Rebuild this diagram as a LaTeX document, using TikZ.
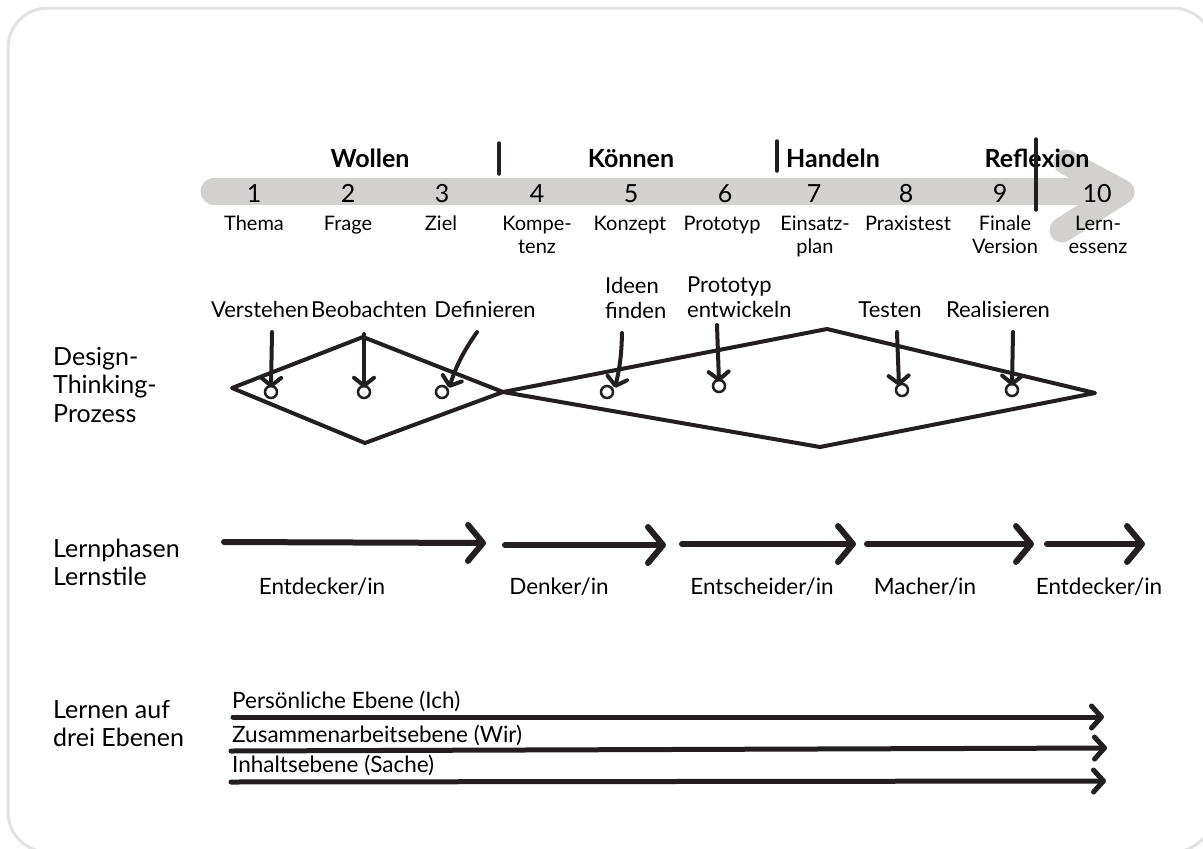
\documentclass[tikz,border=0pt]{standalone}
\usepackage{fontspec}
\setmainfont{Lato}
\usetikzlibrary{arrows.meta}
\definecolor{ink}{HTML}{231F20}
\definecolor{bandgray}{HTML}{D2D1CF}
\definecolor{framegray}{HTML}{E2E2E2}
\newcommand{\mlc}[1]{\begin{tabular}[t]{@{}c@{}}#1\end{tabular}}
\newcommand{\mll}[1]{\begin{tabular}[t]{@{}l@{}}#1\end{tabular}}
\tikzset{
  num/.style={font=\fontsize{25}{28}\selectfont, anchor=base, inner sep=0pt},
  sub/.style={font=\fontsize{20}{23}\selectfont, anchor=base, inner sep=0pt},
  phase/.style={font=\fontsize{25}{28}\bfseries\selectfont, anchor=base, inner sep=0pt},
  bar/.style={ink, line width=3.5pt, line cap=round},
  dtlabel/.style={font=\fontsize{22}{25.5}\selectfont, anchor=base, inner sep=0pt},
  rowlabel/.style={font=\fontsize{25}{28.5}\selectfont, anchor=base west, inner sep=0pt},
  dia/.style={ink, line width=4pt, line join=round, line cap=round},
  dot/.style={circle, draw=ink, line width=2.5pt, fill=white, minimum size=12pt, inner sep=0pt},
  dtarrow/.style={ink, line width=4pt, line cap=round, -{Straight Barb[length=8pt,width=20pt,round]}},
  phasearrow/.style={ink, line width=6pt, line cap=round, -{Straight Barb[length=15pt,width=36pt,round]}},
  stylelabel/.style={font=\fontsize{22.5}{25}\selectfont, anchor=base, inner sep=0pt},
  levelarrow/.style={ink, line width=5pt, line cap=round, -{Straight Barb[length=10pt,width=22pt,round]}},
  levellabel/.style={font=\fontsize{22.5}{24}\selectfont, anchor=base west, inner sep=0pt},
}
\begin{document}
\begin{tikzpicture}[x=1pt,y=-1pt]
\useasboundingbox (0,0) rectangle (1203,849);
\draw[framegray, line width=3pt, rounded corners=40pt] (8,8) rectangle (1213,852);

% gray band
\draw[bandgray, line width=27pt, line cap=round] (214,191) -- (1115,191);
\draw[bandgray, line width=25pt, line cap=round, line join=round] (1066,162) -- (1122,192) -- (1062,230);

% numbers
\foreach \i/\x in {1/254,2/348,3/442,4/537,5/631,6/725,7/814,8/906,9/1000,10/1097}{
  \node[num] (n\i) at (\x,202) {\i};
}
% sublabels
\node[sub] (s1) at (254,230) {Thema};
\node[sub] (s2) at (348,230) {Frage};
\node[sub] (s3) at (441,230) {Ziel};
\node[sub] (s4) at (537,230) {\mlc{Kompe-\\tenz}};
\node[sub] (s5) at (630,230) {Konzept};
\node[sub] (s6) at (722,230) {Prototyp};
\node[sub] (s7) at (815,230) {\mlc{Einsatz-\\plan}};
\node[sub] (s8) at (908,230) {Praxistest};
\node[sub] (s9) at (1005,230) {\mlc{Finale\\Version}};
\node[sub] (s10) at (1098,230) {\mlc{Lern-\\essenz}};

% phases
\node[phase] (wollen) at (370,167) {Wollen};
\node[phase] (koennen) at (631,167) {Können};
\node[phase] (handeln) at (833,167) {Handeln};
\node[phase] (reflexion) at (1037,167) {Reflexion};
\draw[bar] (499,143) -- (499,174);
\draw[bar] (777,141) -- (777,171);
\draw[bar] (1036,139) -- (1036,210);

% row labels
\node[rowlabel] (dtp) at (53,365) {\mll{Design-\\Thinking-\\Prozess}};
\node[rowlabel] (lps) at (53,557) {\mll{Lernphasen\\Lernstile}};
\node[rowlabel] (lde) at (53,718) {\mll{Lernen auf\\drei Ebenen}};

% design thinking shapes
\coordinate (dl) at (232,388);
\coordinate (dt) at (363,337);
\coordinate (dm) at (503,392);
\coordinate (db) at (365,443);
\coordinate (et) at (827,329);
\coordinate (er) at (1095,393);
\coordinate (eb) at (820,447);
\draw[dia] (dl) -- (dt) -- (dm) -- (db) -- cycle;
\draw[dia] (dm) -- (et) -- (er) -- (eb) -- cycle;

% dots
\node[dot] (c1) at (271,392) {};
\node[dot] (c2) at (364,392) {};
\node[dot] (c3) at (442,392) {};
\node[dot] (c4) at (607,392) {};
\node[dot] (c5) at (719,386) {};
\node[dot] (c6) at (902,390) {};
\node[dot] (c7) at (1012,390) {};

% dt labels
\node[dtlabel] (v1) at (260,317) {Verstehen};
\node[dtlabel] (v2) at (369,317) {Beobachten};
\node[dtlabel] (v3) at (485,317) {Definieren};
\node[dtlabel, anchor=base west] (v4) at (605,293) {\mll{Ideen\\finden}};
\node[dtlabel, anchor=base west] (v5) at (687,292) {\mll{Prototyp\\entwickeln}};
\node[dtlabel] (v6) at (890,317) {Testen};
\node[dtlabel] (v7) at (998,317) {Realisieren};

\coordinate (a1s) at (272,332);
\coordinate (a2s) at (364,334);
\coordinate (a3s) at (477,332);
\coordinate (a4s) at (622,333);
\coordinate (a5s) at (717,325);
\coordinate (a6s) at (897,332);
\coordinate (a7s) at (1013,332);
\draw[dtarrow] (a1s) -- ([yshift=-3pt]c1.north);
\draw[dtarrow] (a2s) -- ([yshift=-3pt]c2.north);
\draw[dtarrow] (a3s) to[bend right=8] ([xshift=7pt,yshift=-3pt]c3.north);
\draw[dtarrow] (a4s) to[bend left=6] ([xshift=8pt,yshift=-3pt]c4.north);
\draw[dtarrow] (a5s) -- ([yshift=-3pt]c5.north);
\draw[dtarrow] (a6s) -- ([xshift=-3pt,yshift=-3pt]c6.north);
\draw[dtarrow] (a7s) -- ([yshift=-3pt]c7.north);

% Lernphasen arrows
\coordinate (p0) at (224,542);
\coordinate (p1) at (486,543);
\coordinate (q1) at (505,545);
\coordinate (p2) at (666,545);
\coordinate (q2) at (682,544);
\coordinate (p3) at (856,544);
\coordinate (q3) at (867,544);
\coordinate (p4) at (1034,544);
\coordinate (q4) at (1047,544);
\coordinate (p5) at (1145,544);
\draw[phasearrow] (p0) -- (p1);
\draw[phasearrow] (q1) -- (p2);
\draw[phasearrow] (q2) -- (p3);
\draw[phasearrow] (q3) -- (p4);
\draw[phasearrow] (q4) -- (p5);

\node[stylelabel] (st1) at (322,594) {Entdecker/in};
\node[stylelabel] (st2) at (559,594) {Denker/in};
\node[stylelabel] (st3) at (762,594) {Entscheider/in};
\node[stylelabel] (st4) at (925,594) {Macher/in};
\node[stylelabel] (st5) at (1099,594) {Entdecker/in};

% Ebenen
\node[levellabel] (e1) at (232,708) {Persönliche Ebene (Ich)};
\node[levellabel] (e2) at (232,742) {Zusammenarbeitsebene (Wir)};
\node[levellabel] (e3) at (232,772) {Inhaltsebene (Sache)};
\coordinate (e1s) at (233,717);
\coordinate (e1e) at (1104,717);
\coordinate (e2s) at (231,751);
\coordinate (e2e) at (1107,748);
\coordinate (e3s) at (231,782);
\coordinate (e3e) at (1106,781);
\draw[levelarrow] (e1s) -- (e1e);
\draw[levelarrow] (e2s) -- (e2e);
\draw[levelarrow] (e3s) -- (e3e);
\end{tikzpicture}
\end{document}
